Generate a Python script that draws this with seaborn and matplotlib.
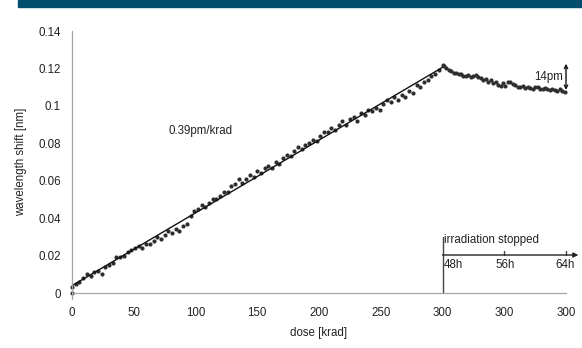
import matplotlib
matplotlib.use("Agg")
import matplotlib.pyplot as plt
import seaborn as sns
import pandas as pd
from matplotlib.patches import Rectangle

# ---- data ----
dose_irr = [0, 0, 3, 6, 9, 12, 15, 18, 21, 24, 27, 30, 33, 36, 39, 42, 45, 48, 51, 54, 57,
            60, 63, 66, 69, 72, 75, 78, 81, 84, 87, 90, 93, 96, 99, 102, 105, 108, 111, 114,
            117, 120, 123, 126, 129, 132, 135, 138, 141, 144, 147, 150, 153, 156, 159, 162,
            165, 168, 171, 174, 177, 180, 183, 186, 189, 192, 195, 198, 201, 204, 207, 210,
            213, 216, 219, 222, 225, 228, 231, 234, 237, 240, 243, 246, 249, 252, 255, 258,
            261, 264, 267, 270, 273, 276, 279, 282, 285, 288, 291, 294, 297, 300]
shift_irr = [0.000, 0.003, 0.005, 0.006, 0.008, 0.010, 0.009, 0.011, 0.012, 0.010, 0.014,
             0.015, 0.016, 0.019, 0.019, 0.020, 0.022, 0.023, 0.024, 0.025, 0.024, 0.026,
             0.026, 0.028, 0.030, 0.029, 0.031, 0.033, 0.032, 0.034, 0.033, 0.036, 0.037,
             0.041, 0.044, 0.045, 0.047, 0.046, 0.048, 0.050, 0.050, 0.052, 0.054, 0.054,
             0.057, 0.058, 0.061, 0.059, 0.061, 0.063, 0.062, 0.065, 0.064, 0.067, 0.068,
             0.067, 0.070, 0.069, 0.072, 0.074, 0.073, 0.076, 0.078, 0.077, 0.079, 0.080,
             0.082, 0.081, 0.084, 0.086, 0.086, 0.088, 0.087, 0.090, 0.092, 0.090, 0.093,
             0.094, 0.092, 0.096, 0.095, 0.098, 0.097, 0.099, 0.098, 0.101, 0.103, 0.102,
             0.105, 0.103, 0.106, 0.105, 0.108, 0.107, 0.111, 0.110, 0.113, 0.114, 0.116,
             0.117, 0.119, 0.122]

# recovery phase: axis positions 300..400 correspond to 48h..64h
pos_rec = [301, 303, 305, 307, 309, 311, 313, 315, 317, 319, 321, 323, 325, 327, 329, 331,
           333, 335, 337, 339, 341, 343, 345, 347, 349, 351, 353, 355, 357, 359, 361, 363,
           365, 367, 369, 371, 373, 375, 377, 379, 381, 383, 385, 387, 389, 391, 393, 395,
           397, 399]
shift_rec = [0.1215, 0.1200, 0.1190, 0.1185, 0.1175, 0.1178, 0.1168, 0.1170, 0.1162, 0.1160,
             0.1165, 0.1155, 0.1160, 0.1167, 0.1155, 0.1150, 0.1140, 0.1145, 0.1128, 0.1138,
             0.1122, 0.1128, 0.1112, 0.1108, 0.1120, 0.1105, 0.1125, 0.1128, 0.1115, 0.1112,
             0.1102, 0.1100, 0.1106, 0.1095, 0.1100, 0.1093, 0.1090, 0.1100, 0.1103, 0.1092,
             0.1088, 0.1094, 0.1090, 0.1085, 0.1092, 0.1085, 0.1080, 0.1088, 0.1078, 0.1072]

x_tick_pos = [0, 50, 100, 150, 200, 250, 300, 350, 400]
x_tick_labels = ["0", "50", "100", "150", "200", "250", "300", "300", "300"]
y_ticks = [0, 0.02, 0.04, 0.06, 0.08, 0.10, 0.12, 0.14]
y_tick_labels = ["0", "0.02", "0.04", "0.06", "0.08", "0.1", "0.12", "0.14"]
hour_pos = [300, 350, 400]
hour_labels = ["48h", "56h", "64h"]

# ---- style ----
sns.set_theme(style="white")
plt.rcParams["font.family"] = ["Liberation Sans", "DejaVu Sans"]

fig = plt.figure(figsize=(5.82, 3.48), dpi=100)
ax = fig.add_axes([72 / 582, 1 - 293 / 348, (566 - 72) / 582, (293 - 31) / 348])

# top banner
fig.patches.append(Rectangle((18 / 582, 1 - 7 / 348), 1, 7 / 348,
                             transform=fig.transFigure, color="#004d6d", zorder=5))

dot = "#2e2e2e"
fs = 8.3
df_irr = pd.DataFrame({"dose": dose_irr, "shift": shift_irr})
sns.regplot(data=df_irr, x="dose", y="shift", ci=None, ax=ax,
            scatter_kws=dict(s=9, color=dot, linewidths=0, alpha=1, clip_on=False),
            line_kws=dict(color="#111111", lw=1.0))
sns.scatterplot(x=pos_rec, y=shift_rec, s=9, color=dot, linewidth=0, ax=ax, clip_on=False)

ax.set_xlim(0, 400)
ax.set_ylim(0, 0.14)
ax.set_xticks(x_tick_pos)
ax.set_xticklabels(x_tick_labels)
ax.set_yticks(y_ticks)
ax.set_yticklabels(y_tick_labels)
ax.set_xlabel("dose [krad]", fontsize=fs, color="#222222", labelpad=6)
ax.set_ylabel("wavelength shift [nm]", fontsize=fs, color="#222222", labelpad=8)

spine_c = "#a6a6a6"
for s in ["top", "right"]:
    ax.spines[s].set_visible(False)
for s in ["left", "bottom"]:
    ax.spines[s].set_color(spine_c)
    ax.spines[s].set_linewidth(0.9)
ax.spines["left"].set_bounds(-0.003, 0.14)
ax.tick_params(axis="both", which="major", direction="out", length=4, width=0.8,
               color=spine_c, labelsize=fs, labelcolor="#222222")
ax.tick_params(axis="x", pad=6)
ax.tick_params(axis="y", pad=4)

# annotations
ax.text(104, 0.0866, "0.39pm/krad", fontsize=fs, color="#222222", ha="center", va="center")

# irradiation stopped marker
ax.plot([300, 300], [0, 0.030], color="#444444", lw=1.0, clip_on=False)
ax.annotate("", xy=(410, 0.0203), xytext=(300, 0.0203),
            arrowprops=dict(arrowstyle="-|>", color="#222222", lw=1.0,
                            mutation_scale=7, shrinkA=0, shrinkB=0),
            annotation_clip=False)
for hp in hour_pos[1:]:
    ax.plot([hp, hp], [0.0203, 0.0225], color="#444444", lw=1.0, clip_on=False)
ax.text(301, 0.0283, "irradiation stopped", fontsize=fs, color="#222222",
        ha="left", va="center")
ax.text(hour_pos[0] + 1, 0.0150, hour_labels[0], fontsize=fs, color="#222222",
        ha="left", va="center")
ax.text(hour_pos[1] + 1, 0.0150, hour_labels[1], fontsize=fs, color="#222222",
        ha="center", va="center")
ax.text(hour_pos[2] - 1, 0.0150, hour_labels[2], fontsize=fs, color="#222222",
        ha="center", va="center")

# 14pm double arrow
ax.annotate("", xy=(400, 0.1225), xytext=(400, 0.1085),
            arrowprops=dict(arrowstyle="<->", color="#111111", lw=1.0,
                            mutation_scale=6, shrinkA=0, shrinkB=0),
            annotation_clip=False)
ax.text(398, 0.1155, "14pm", fontsize=fs, color="#222222", ha="right", va="center")

fig.savefig("out.png", dpi=100)
